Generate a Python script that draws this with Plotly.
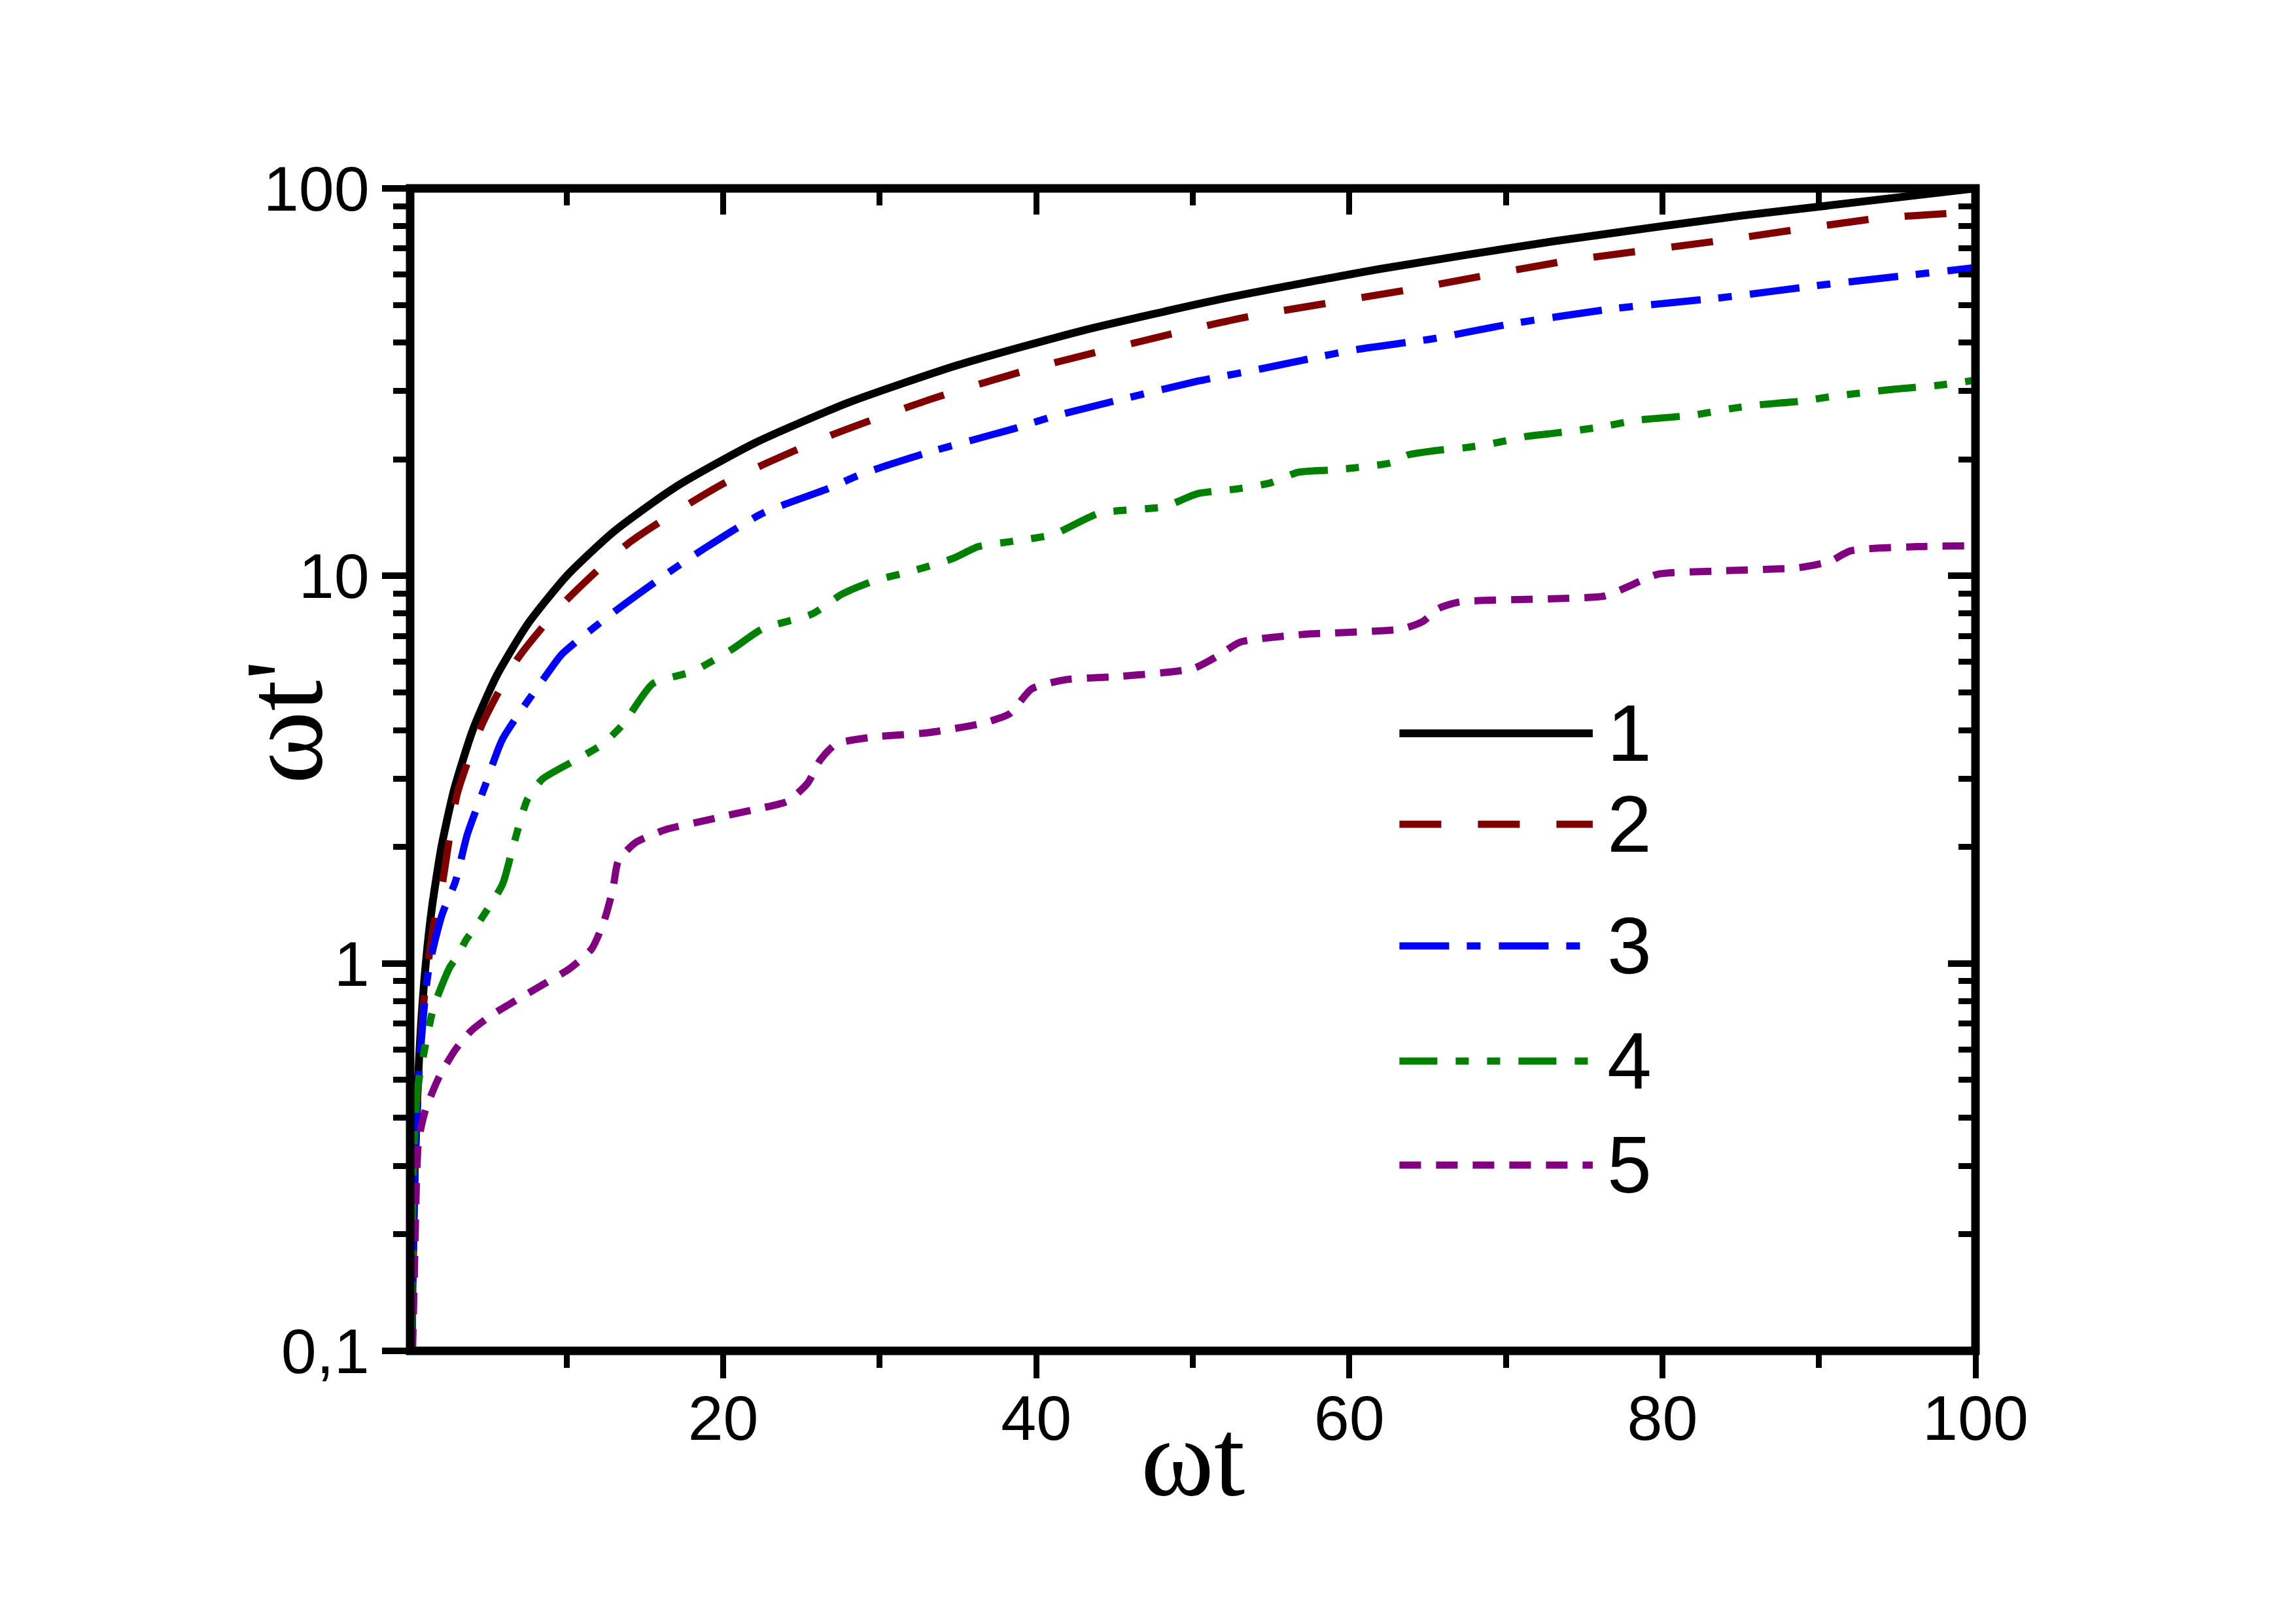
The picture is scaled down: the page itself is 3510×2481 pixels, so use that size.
import plotly.graph_objects as go

# ---------------- data ----------------
x1 = [0.1, 0.15, 0.2, 0.3, 0.4, 0.5, 0.7, 1.0, 1.4, 2.0, 2.8, 4.0, 5.5, 7.5, 10, 13, 17, 22, 28, 35, 43, 52, 62, 73, 85, 100]
y1 = [0.1, 0.15, 0.2, 0.3, 0.4, 0.5, 0.7, 1.0, 1.4, 2.0, 2.8, 4.0, 5.5, 7.5, 10, 13, 17, 22, 28, 35, 43, 52, 62, 73, 85, 100]

x2 = [0.1, 0.3, 0.6, 1.0, 1.5, 2.05, 3.0, 4.6, 6.85, 9.73, 13.9, 20.0, 26.7, 33.4, 40, 50.1, 53.7, 63.7, 73.7, 83.7, 93.7, 100]
y2 = [0.1, 0.29, 0.57, 0.9, 1.25, 1.6, 2.73, 4.14, 6.1, 8.45, 12.1, 17.3, 22.9, 28.7, 34.5, 43.5, 46.8, 54.7, 64.8, 73.3, 83.6, 87.0]

x3 = [0.1, 0.3, 0.6, 1.0, 1.25, 2.05, 2.9, 3.65, 4.8, 5.9, 8.77, 9.73, 13.25, 16.8, 18.7, 22.5, 26.7, 28.9, 33.4, 38.6, 41.1, 50.3, 53.7, 60.3, 65.3, 70.3, 77.0, 83.7, 90.3, 97.0, 100]
y3 = [0.1, 0.28, 0.55, 0.85, 1.0, 1.34, 1.63, 2.15, 2.88, 3.79, 5.6, 6.3, 8.2, 10.4, 11.7, 14.5, 16.8, 18.35, 21.0, 24.0, 25.8, 31.8, 33.8, 38.3, 40.9, 44.7, 49.0, 52.2, 56.4, 60.5, 62.5]

x4 = [0.1, 0.2, 0.46, 0.82, 1.5, 2.55, 3.0, 3.6, 4.3, 5.9, 6.53, 7.49, 8.45, 10.7, 12.3, 13.6, 15.5, 18.06, 20.6, 22.5, 25.7, 27.6, 29.6, 32.1, 34.7, 36.3, 38.6, 41.1, 44.0, 48.2, 50.3, 53.0, 55.0, 56.7, 58.7, 60.3, 62.7, 63.7, 65.3, 67.3, 69.0, 71.3, 73.3, 76.0, 78.3, 82.0, 84.3, 86.0, 88.7, 91.0, 94.7, 97.5, 100]
y4 = [0.1, 0.3, 0.47, 0.57, 0.77, 0.98, 1.04, 1.155, 1.26, 1.6, 1.97, 2.65, 2.99, 3.37, 3.68, 4.14, 5.27, 5.67, 6.48, 7.3, 7.98, 8.98, 9.7, 10.3, 11.1, 11.9, 12.3, 12.8, 14.5, 15.1, 16.3, 16.8, 17.4, 18.5, 18.75, 19.0, 19.6, 20.5, 21.0, 21.4, 21.9, 22.9, 23.4, 24.2, 25.2, 26.0, 27.0, 27.6, 28.2, 29.1, 30.3, 31.0, 32.0]

x5 = [0.15, 0.2, 0.3, 0.4, 0.54, 0.99, 1.86, 2.9, 3.9, 5.3, 6.7, 8.45, 10.2, 11.6, 12.4, 12.96, 13.3, 14.4, 16.4, 18.5, 20.3, 22.3, 24.1, 25.4, 26.2, 27.2, 29.6, 33.1, 36.6, 38.3, 39.7, 41.8, 45.2, 48.0, 50.1, 51.7, 53.0, 57.0, 63.3, 64.7, 65.7, 67.0, 73.0, 76.3, 77.7, 79.7, 83.7, 88.7, 90.7, 92.0, 96.3, 100]
y5 = [0.1, 0.12, 0.18, 0.27, 0.35, 0.42, 0.51, 0.60, 0.67, 0.74, 0.80, 0.88, 0.97, 1.09, 1.29, 1.56, 1.84, 2.05, 2.22, 2.32, 2.41, 2.51, 2.62, 2.92, 3.35, 3.68, 3.84, 3.94, 4.17, 4.41, 5.11, 5.39, 5.5, 5.62, 5.78, 6.25, 6.74, 7.06, 7.29, 7.63, 8.24, 8.56, 8.73, 8.87, 9.34, 10.1, 10.3, 10.5, 10.9, 11.6, 11.9, 11.96]

series_names = ["1", "2", "3", "4", "5"]
x_major = [20, 40, 60, 80, 100]
x_minor = [10, 30, 50, 70, 90]
y_major = [0.1, 1, 10, 100]
y_major_text = ["0,1", "1", "10", "100"]
y_minor = [0.2, 0.3, 0.4, 0.5, 0.6, 0.7, 0.8, 0.9,
           2, 3, 4, 5, 6, 7, 8, 9,
           20, 30, 40, 50, 60, 70, 80, 90]

# ---------------- styles ----------------
colors = ["#000000", "#800000", "#0000FF", "#008000", "#800080"]
dashes = ["solid", "64px,56px", "76px,27px,21px,28px",
          "58px,28px,20px,28px,20px,28px", "33px,23px"]
widths = [12, 11, 11, 11, 11]

SANS = "Liberation Sans, Arial, sans-serif"
SERIF = "Liberation Serif, Times New Roman, serif"

fig = go.Figure()
for xs, ys, name, c, d, w in zip([x1, x2, x3, x4, x5], [y1, y2, y3, y4, y5],
                                 series_names, colors, dashes, widths):
    fig.add_trace(go.Scatter(x=xs, y=ys, mode="lines", name=name,
                             line=dict(color=c, dash=d, width=w, shape="spline", smoothing=0.6),
                             showlegend=False))

# empty trace so the mirrored (top/right) axes get drawn
fig.add_trace(go.Scatter(x=[], y=[], xaxis="x2", yaxis="y2", showlegend=False, hoverinfo="skip"))

axis_common = dict(showgrid=False, zeroline=False, showline=False, tickcolor="black")

def minor(side, vals, ln):
    return dict(tickmode="array", tickvals=vals, ticks=side, ticklen=ln,
                tickwidth=9, tickcolor="black", showgrid=False)

fig.update_layout(
    width=3510, height=2481,
    margin=dict(l=627, r=490, t=288, b=416, pad=0),
    paper_bgcolor="white", plot_bgcolor="white",
    xaxis=dict(range=[0, 100], ticks="outside", ticklen=41, tickwidth=9,
               tickmode="array", tickvals=x_major, ticklabelstandoff=-22,
               tickfont=dict(family=SANS, size=97, color="black"),
               minor=minor("outside", x_minor, 25), **axis_common),
    yaxis=dict(type="log", range=[-1, 2], ticks="outside", ticklen=42, tickwidth=10,
               tickmode="array", tickvals=y_major, ticktext=y_major_text,
               tickfont=dict(family=SANS, size=97, color="black"),
               minor=minor("outside", y_minor, 25), **axis_common),
    xaxis2=dict(range=[0, 100], overlaying="x", side="top", anchor="y2",
                ticks="inside", ticklen=40, tickwidth=9, showticklabels=False,
                tickmode="array", tickvals=x_major,
                minor=minor("inside", x_minor, 26), **axis_common),
    yaxis2=dict(type="log", range=[-1, 2], overlaying="y", side="right", anchor="x2",
                ticks="inside", ticklen=42, tickwidth=10, showticklabels=False,
                tickmode="array", tickvals=y_major,
                minor=minor("inside", y_minor, 26), **axis_common),
)

# frame centred on the plot-area edges
fig.add_shape(type="rect", xref="paper", yref="paper", x0=0, x1=1, y0=0, y1=1,
              line=dict(color="black", width=13), layer="above")

# axis titles
fig.add_annotation(text="ωt", xref="paper", yref="paper", x=0.5, y=-0.092,
                   xanchor="center", yanchor="middle", showarrow=False,
                   font=dict(family=SERIF, size=170, color="black"))
fig.add_annotation(text="ωt'", xref="paper", yref="paper", x=-0.081, y=0.541,
                   xanchor="center", yanchor="middle", showarrow=False, textangle=-90,
                   font=dict(family=SERIF, size=170, color="black"))

# legend (drawn by hand to match the long sample lines)
leg_y = [0.5312, 0.4530, 0.3483, 0.2493, 0.1598]
for name, c, d, w, yy in zip(series_names, colors, dashes, widths, leg_y):
    fig.add_shape(type="line", xref="paper", yref="paper", x0=0.632, x1=0.7555, y0=yy, y1=yy,
                  line=dict(color=c, dash=d, width=w))
    fig.add_annotation(text=name, xref="paper", yref="paper", x=0.764, y=yy,
                       xanchor="left", yanchor="middle", showarrow=False,
                       font=dict(family=SANS, size=122, color="black"))

fig.write_html("out.html", config={"displayModeBar": False},
               post_script="document.body.style.margin='0px';")
